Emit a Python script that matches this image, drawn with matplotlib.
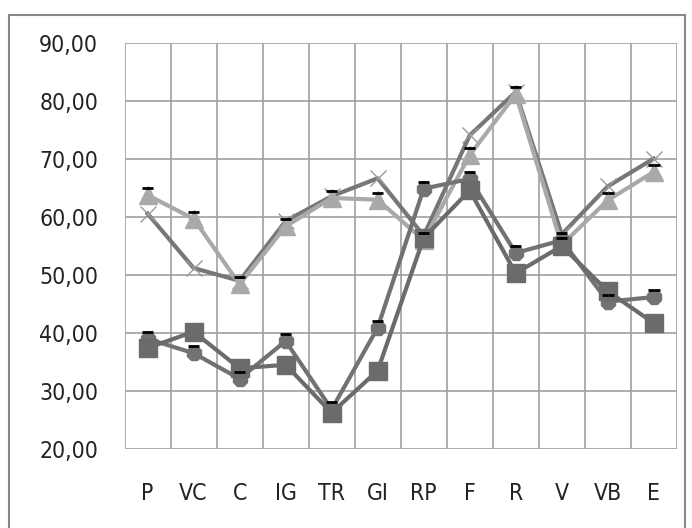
import numpy as np
import matplotlib.pyplot as plt
from matplotlib.patches import Rectangle
from matplotlib.ticker import FuncFormatter, MultipleLocator

# Data
categories = ['P', 'VC', 'C', 'IG', 'TR', 'GI', 'RP', 'F', 'R', 'V', 'VB', 'E']
squares   = [37.4, 40.2, 33.9, 34.5, 26.2, 33.5, 56.4, 64.6, 50.3, 55.0, 47.2, 41.7]
diamonds  = [39.0, 36.5, 32.1, 38.6, 26.8, 40.9, 64.9, 66.6, 53.8, 56.0, 45.4, 46.2]
triangles = [63.8, 59.7, 48.4, 58.4, 63.3, 63.0, 56.0, 70.7, 81.2, 55.2, 62.9, 67.8]
crosses   = [60.6, 51.2, 49.0, 59.3, 63.6, 66.7, 56.8, 74.1, 81.6, 57.0, 65.3, 70.1]

plt.rcParams['font.family'] = ['DejaVu Sans']
plt.rcParams['font.stretch'] = 'condensed'

fig = plt.figure(figsize=(6.92, 5.28), dpi=100)
ax = fig.add_axes([0.180, 0.150, 0.798, 0.768])

x = np.arange(len(categories))

# series lines
ax.plot(x, crosses, color='#777777', lw=3.0, marker='x', ms=12, mew=1.0,
        mec='#999999', zorder=3)
ax.plot(x, triangles, color='#a9a9a9', lw=3.0, marker='^', ms=13,
        mfc='#a9a9a9', mec='#a9a9a9', zorder=4)
ax.plot(x, diamonds, color='#727272', lw=3.0, marker='8', ms=11,
        mfc='#727272', mec='#727272', zorder=5)
ax.plot(x, squares, color='#6b6b6b', lw=3.0, marker='s', ms=13,
        mfc='#6b6b6b', mec='#6b6b6b', zorder=6)

# small black dashes above triangle and diamond points
for ser in (triangles, diamonds):
    top = np.array(ser) + 1.2
    ax.plot(x - 0.06, top, ls='none', marker='_', ms=4, mew=2.0,
            color='black', zorder=7)
    ax.plot(x + 0.06, top, ls='none', marker='_', ms=4, mew=2.0,
            color='black', zorder=7)

ax.set_xlim(-0.5, len(categories) - 0.5)
ax.set_ylim(20, 90)
ax.yaxis.set_major_locator(MultipleLocator(10))
ax.yaxis.set_major_formatter(FuncFormatter(lambda v, p: f'{v:.2f}'.replace('.', ',')))
ax.set_xticks(x)
ax.set_xticklabels(categories)
ax.set_xticks(np.arange(-0.5, len(categories), 1), minor=True)

ax.grid(True, which='major', axis='y', color='#a0a0a0', lw=1.2)
ax.grid(True, which='minor', axis='x', color='#a0a0a0', lw=1.2)
ax.set_axisbelow(True)
for s in ax.spines.values():
    s.set_visible(False)
ax.tick_params(which='both', length=0)
ax.tick_params(axis='y', labelsize=16.5, pad=19, colors='#222222')
ax.tick_params(axis='x', labelsize=16.5, pad=24, colors='#222222')

# outer chart frame (bottom edge runs off the image)
fig.patches.append(Rectangle((9 / 692, -0.05), 676 / 692, 1 - 15 / 528 + 0.05,
                             transform=fig.transFigure, fill=False,
                             ec='#888888', lw=1.5))

fig.savefig('out.png', dpi=100)
